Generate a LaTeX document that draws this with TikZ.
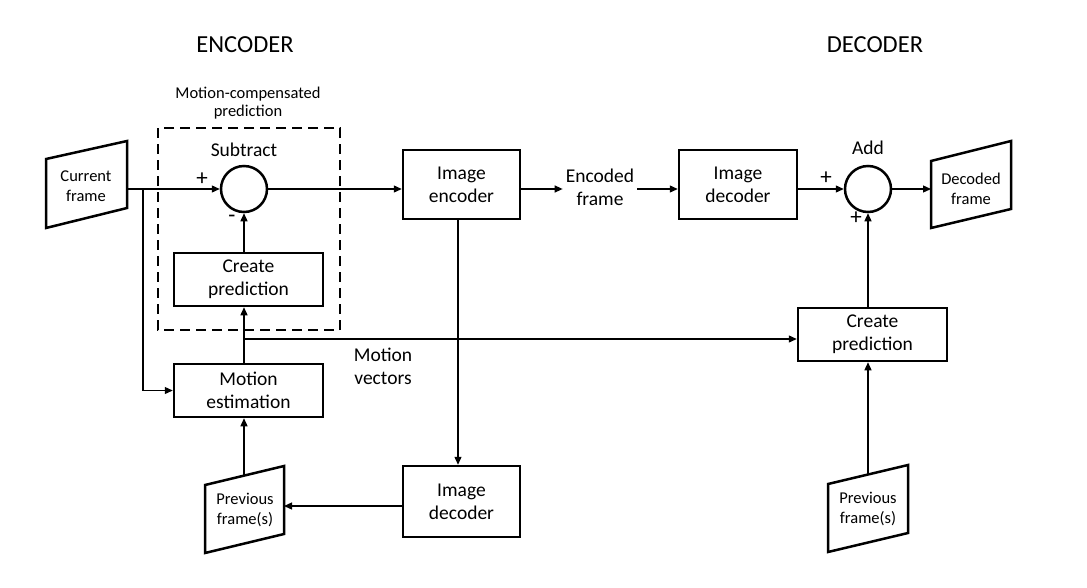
\documentclass[tikz,border=0pt]{standalone}
\usepackage{fontspec}
\setmainfont{Carlito}
\usetikzlibrary{arrows.meta,calc}
\begin{document}
\begin{tikzpicture}[x=1pt,y=-1pt,
  box/.style={draw,line width=2.5pt,align=center,inner sep=0pt,font=\fontsize{19.5}{23}\selectfont},
  sumc/.style={draw,circle,line width=2.5pt,minimum size=46pt,inner sep=0pt},
  arr/.style={-{Triangle[length=8pt,width=7pt]},line width=1.3pt},
  ln/.style={line width=1.3pt},
  frm/.style={draw,line width=2.5pt,line join=miter},
  frmtxt/.style={align=center,font=\fontsize{16.5}{20}\selectfont},
  lbl/.style={align=center,font=\fontsize{19.5}{23}\selectfont},
  sgn/.style={font=\fontsize{23}{26}\selectfont,inner sep=0pt},
  ttl/.style={font=\fontsize{24.5}{28}\selectfont}]
\useasboundingbox (0,0) rectangle (1087,587);

% titles
\node[ttl] (tenc) at (245,45) {ENCODER};
\node[ttl] (tdec) at (875,45) {DECODER};

% dashed motion-compensated prediction region
\draw[line width=2.5pt,dash pattern=on 10pt off 6pt] (158,128) rectangle (340,330);
\node[frmtxt] (mcp) at (248,103) {Motion-compensated\\[-2pt]prediction};

% frames (parallelograms)
\draw[frm] (46,159) -- (127,141) -- (127,208) -- (46,228) -- cycle;
\node[frmtxt] (cur) at (86,186) {Current\\frame};
\coordinate (curout) at (127,189);

\draw[frm] (205,485) -- (284,466) -- (284,534) -- (205,553) -- cycle;
\node[frmtxt] (prevL) at (245,510) {Previous\\frame(s)};
\coordinate (prevLin) at (284,506);
\coordinate (prevLout) at (244,476);

\draw[frm] (828,484) -- (908,465) -- (908,533) -- (828,552) -- cycle;
\node[frmtxt] (prevR) at (868,509) {Previous\\frame(s)};
\coordinate (prevRout) at (868,474.5);

\draw[frm] (931,161) -- (1011,141) -- (1011,209) -- (931,228) -- cycle;
\node[frmtxt] (decF) at (971,189) {Decoded\\frame};
\coordinate (decFin) at (931,189);

% blocks
\node[box,minimum width=117pt,minimum height=69pt] (enc) at (461.5,184.5) {Image\\encoder};
\node[box,minimum width=118pt,minimum height=69pt] (decE) at (738,184.5) {Image\\decoder};
\node[box,minimum width=117pt,minimum height=71pt] (decL) at (461.5,501.5) {Image\\decoder};
\node[box,minimum width=149pt,minimum height=53pt] (cpE) at (248.5,279.5) {Create\\prediction};
\node[box,minimum width=149pt,minimum height=53pt] (me) at (248.5,390.5) {Motion\\estimation};
\node[box,minimum width=149pt,minimum height=53pt] (cpD) at (872.5,334.5) {Create\\prediction};

% summing junctions
\node[sumc] (sub) at (244,189) {};
\node[sumc] (add) at (868,189) {};
\node[lbl] (subl) at (244,150) {Subtract};
\node[lbl] (addl) at (868,148) {Add};
\node[sgn] (p1) at (202,179) {+};
\node[sgn] (m1) at (232,219) {-};
\node[sgn] (p2) at (826,178) {+};
\node[sgn] (p3) at (856,218) {+};

% encoded frame label
\node[lbl,inner sep=3pt] (encf) at (600,187) {Encoded\\frame};
\node[lbl] (mv) at (383,366) {Motion\\vectors};

% connectors
\coordinate (br) at (143,189);
\coordinate (mvj) at (244,339);
\draw[arr] (curout) -- (sub.west);
\draw[arr] (br) |- (me.west);
\draw[arr] (sub.east) -- (enc.west |- sub.east);
\draw[arr] (cpE.north -| sub) -- (sub.south);
\draw[arr] (me.north -| sub) -- (cpE.south -| sub);
\draw[arr] (mvj) -- (cpD.west |- mvj);
\draw[arr] (enc.south -| 458,0) -- (decL.north -| 458,0);
\draw[arr] (decL.west |- prevLin) -- (prevLin);
\draw[arr] (prevLout) -- (me.south -| prevLout);
\draw[arr] (enc.east |- sub.east) -- (encf.west |- sub.east);
\draw[arr] (encf.east |- sub.east) -- (decE.west |- sub.east);
\draw[arr] (decE.east |- add.west) -- (add.west);
\draw[arr] (add.east) -- (decFin);
\draw[arr] (cpD.north -| add) -- (add.south);
\draw[arr] (prevRout) -- (cpD.south -| prevRout);
\end{tikzpicture}
\end{document}
